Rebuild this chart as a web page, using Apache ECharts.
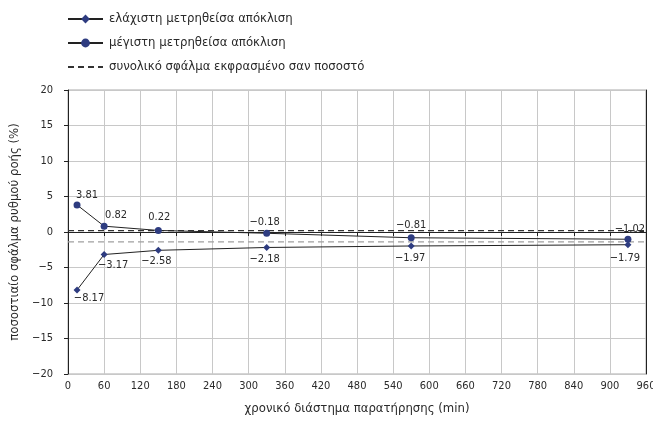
<!DOCTYPE html>
<html>
<head>
<meta charset="utf-8">
<script src="https://cdn.jsdelivr.net/npm/echarts@6/dist/echarts.min.js"></script>
<style>
html,body{margin:0;padding:0;background:#fff;}
#chart{width:653px;height:423px;}
</style>
</head>
<body>
<div id="chart"></div>
<script>
// ---- data ----
var timesMin = [15, 60, 150, 330, 570, 930];
var minDeviation = [-8.17, -3.17, -2.58, -2.18, -1.97, -1.79];
var maxDeviation = [3.81, 0.82, 0.22, -0.18, -0.81, -1.02];
var totalErrorPct = 0.2;
var meanA = -1.38;
var xRange = [0, 960];
var seriesNames = ['ελάχιστη μετρηθείσα απόκλιση', 'μέγιστη μετρηθείσα απόκλιση', 'συνολικό σφάλμα εκφρασμένο σαν ποσοστό'];
var yTitle = 'ποσοστιαίο σφάλμα ρυθμού ροής (%)';
var xTitle = 'χρονικό διάστημα παρατήρησης (min)';

// ---- label placement (style, not data) ----
var maxLabelOffsets = [[10,-10],[12,-11],[1,-13],[-2,-11],[0,-13],[2,-10]];
var minLabelOffsets = [[12,8],[9,11],[-2,11],[-2,12],[-1,12],[-3,13]];

var FONT = "'Liberation Sans Narrow','DejaVu Sans Condensed','Roboto Condensed',sans-serif";
var TXT = '#2a2a2a';
var MARK = '#2e3c80';

function fmt(v){ return v.toFixed(2).replace('-', '\u2212'); }

function buildPoints(vals, offs){
  return vals.map(function(v,i){
    return {
      value:[timesMin[i], v],
      label:{show:true, position:'inside', offset:offs[i], formatter:function(p){return fmt(p.value[1]);}, color:TXT, fontFamily:FONT, fontSize:11}
    };
  });
}

var chart = echarts.init(document.getElementById('chart'));
chart.setOption({
  animation:false,
  backgroundColor:'#fff',
  textStyle:{fontFamily:FONT, color:TXT},
  legend:{
    orient:'vertical', left:62, top:6, itemWidth:35, itemHeight:11, itemGap:8,
    data:[
      {name:seriesNames[0]},
      {name:seriesNames[1]},
      {name:seriesNames[2], itemStyle:{opacity:0}}
    ],
    textStyle:{fontFamily:FONT, fontSize:13, color:TXT, padding:[0,0,0,1], lineHeight:16}
  },
  grid:{left:68, right:7, top:90, bottom:49, show:true, borderColor:'#aaaaaa', borderWidth:1, outerBoundsMode:'none', containLabel:false},
  xAxis:{
    type:'value', min:xRange[0], max:xRange[1], interval:60,
    name:xTitle, nameLocation:'middle', nameGap:28,
    nameTextStyle:{fontFamily:FONT, fontSize:13, color:TXT},
    axisLine:{show:true, lineStyle:{color:'#222', width:1}},
    axisTick:{show:true, length:4, lineStyle:{color:'#222'}},
    axisLabel:{fontFamily:FONT, fontSize:11, color:TXT, margin:7},
    splitLine:{show:true, lineStyle:{color:'#c8c8c8', width:1}}
  },
  yAxis:[{
    type:'value', min:-20, max:20, interval:5, position:'left',
    name:yTitle, nameLocation:'middle', nameGap:47, nameRotate:90,
    nameTextStyle:{fontFamily:FONT, fontSize:13, color:TXT},
    axisLine:{show:true, onZero:false, lineStyle:{color:'#222', width:1}},
    axisTick:{show:true, length:4, lineStyle:{color:'#222'}},
    axisLabel:{fontFamily:FONT, fontSize:11, color:TXT, margin:15,
      formatter:function(v){return String(v).replace('-', '\u2212');}},
    splitLine:{show:true, lineStyle:{color:'#c8c8c8', width:1}}
  },{
    type:'value', min:-20, max:20, interval:5, position:'right',
    axisLine:{show:true, onZero:false, lineStyle:{color:'#222', width:1}},
    axisTick:{show:false}, axisLabel:{show:false}, splitLine:{show:false}
  }],
  series:[
    {
      name:'A', type:'line', silent:true, symbol:'none', z:1,
      data:[
        {value:[xRange[0], meanA], label:{show:true, position:'inside', offset:[24,5], formatter:function(p){return 'A=' + fmt(p.value[1]);}, fontFamily:FONT, fontSize:9, fontWeight:'bold', color:TXT}},
        {value:[xRange[1], meanA]}
      ],
      lineStyle:{color:'#a0a0a0', width:1.2, type:[6,4]}
    },
    {
      name:seriesNames[2], type:'line', symbol:'none', z:2,
      data:[[xRange[0], totalErrorPct],[xRange[1], totalErrorPct]],
      lineStyle:{color:'#333', width:1.3, type:[6,4]},
      itemStyle:{color:'#333'}
    },
    {
      name:seriesNames[0], type:'line', symbol:'diamond', symbolSize:7, z:3,
      data:buildPoints(minDeviation, minLabelOffsets),
      lineStyle:{color:'#222', width:1},
      itemStyle:{color:MARK}
    },
    {
      name:seriesNames[1], type:'line', symbol:'circle', symbolSize:7, z:4,
      data:buildPoints(maxDeviation, maxLabelOffsets),
      lineStyle:{color:'#222', width:1},
      itemStyle:{color:MARK}
    }
  ]
});
</script>
</body>
</html>
